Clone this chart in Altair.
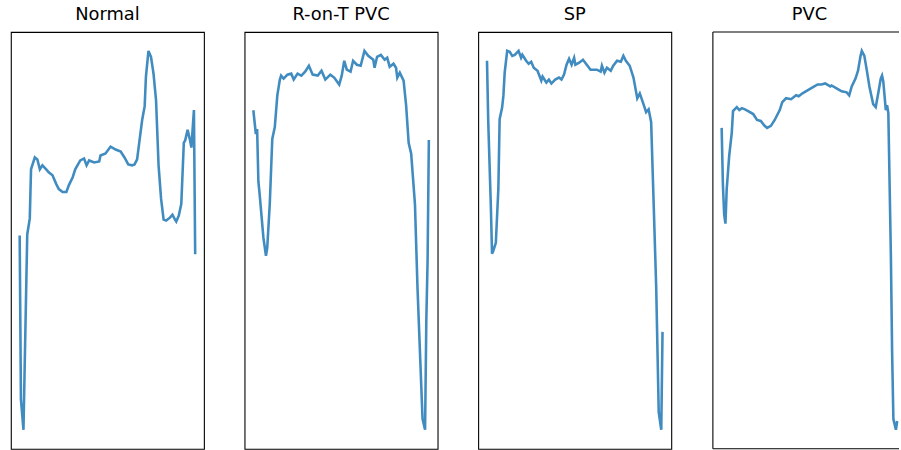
import altair as alt
import pandas as pd

titles = ["Normal", "R-on-T PVC", "SP", "PVC"]

t_normal = [0, 1, 3, 6, 8, 9, 12, 14, 16, 18, 21, 23, 26, 29, 31, 34, 37, 39, 42, 44, 48, 51, 53, 55, 59, 63, 64, 68, 72, 76, 80, 83, 86, 89, 91, 93, 95, 97, 99, 100, 102, 104, 106, 108, 109, 110, 112, 114, 116, 119, 121, 123, 124, 126, 128, 130, 131, 133, 135, 136, 138, 139]
v_normal = [0.06, -1.60, -1.91, 0.07, 0.23, 0.73, 0.85, 0.83, 0.73, 0.77, 0.73, 0.70, 0.67, 0.58, 0.53, 0.50, 0.50, 0.57, 0.65, 0.73, 0.82, 0.84, 0.77, 0.82, 0.80, 0.81, 0.87, 0.89, 0.96, 0.93, 0.91, 0.85, 0.78, 0.77, 0.78, 0.83, 1.03, 1.23, 1.37, 1.67, 1.93, 1.87, 1.70, 1.43, 1.10, 0.77, 0.43, 0.22, 0.21, 0.24, 0.27, 0.22, 0.20, 0.26, 0.38, 1.00, 1.02, 1.13, 1.02, 0.95, 1.33, -0.13]

t_ront = [0, 2, 3, 4, 5, 8, 10, 11, 13, 15, 17, 19, 21, 22, 24, 27, 30, 32, 35, 38, 41, 44, 47, 51, 54, 57, 61, 64, 68, 70, 72, 74, 77, 79, 82, 85, 88, 91, 95, 96, 98, 101, 104, 106, 108, 111, 113, 114, 116, 119, 121, 123, 125, 128, 130, 133, 134, 136, 137, 138, 139]
v_ront = [1.32, 1.08, 1.13, 0.60, 0.47, 0.03, -0.15, -0.07, 0.37, 1.03, 1.15, 1.47, 1.63, 1.67, 1.64, 1.68, 1.69, 1.63, 1.69, 1.67, 1.71, 1.77, 1.68, 1.67, 1.72, 1.63, 1.68, 1.65, 1.58, 1.67, 1.82, 1.73, 1.71, 1.82, 1.78, 1.77, 1.92, 1.87, 1.83, 1.75, 1.86, 1.88, 1.83, 1.85, 1.76, 1.79, 1.75, 1.65, 1.70, 1.62, 1.37, 0.99, 0.88, 0.37, -0.47, -1.47, -1.80, -1.91, -0.80, -0.20, 1.02]

t_sp = [0, 1, 3, 4, 5, 7, 9, 10, 12, 13, 14, 16, 18, 20, 22, 25, 27, 28, 31, 33, 35, 37, 40, 43, 44, 47, 49, 51, 54, 57, 59, 61, 63, 65, 67, 69, 70, 73, 76, 79, 82, 85, 87, 90, 91, 93, 95, 98, 100, 103, 106, 108, 110, 113, 116, 119, 121, 124, 126, 128, 130, 132, 134, 136, 138, 139]
v_sp = [1.82, 1.20, 0.37, -0.13, -0.10, -0.02, 0.53, 1.23, 1.35, 1.47, 1.70, 1.92, 1.91, 1.87, 1.88, 1.92, 1.85, 1.88, 1.82, 1.79, 1.81, 1.75, 1.72, 1.62, 1.66, 1.60, 1.63, 1.59, 1.63, 1.65, 1.63, 1.68, 1.78, 1.84, 1.78, 1.85, 1.78, 1.80, 1.83, 1.78, 1.73, 1.73, 1.73, 1.71, 1.77, 1.70, 1.75, 1.72, 1.77, 1.82, 1.81, 1.87, 1.82, 1.77, 1.65, 1.44, 1.49, 1.38, 1.30, 1.33, 1.20, 0.37, -0.47, -1.73, -1.91, -0.92]

t_pvc = [0, 1, 2, 3, 4, 6, 8, 9, 12, 14, 16, 18, 21, 25, 28, 31, 34, 36, 39, 42, 46, 48, 51, 55, 59, 61, 64, 68, 72, 76, 79, 82, 86, 87, 91, 95, 99, 101, 103, 106, 108, 110, 111, 113, 115, 117, 120, 122, 124, 126, 127, 128, 130, 131, 132, 134, 135, 136, 138, 139]
v_pvc = [1.15, 0.57, 0.27, 0.18, 0.53, 0.87, 1.10, 1.32, 1.36, 1.33, 1.35, 1.34, 1.32, 1.29, 1.23, 1.22, 1.17, 1.15, 1.17, 1.23, 1.33, 1.41, 1.45, 1.44, 1.48, 1.47, 1.50, 1.53, 1.56, 1.59, 1.59, 1.60, 1.57, 1.58, 1.55, 1.52, 1.51, 1.48, 1.57, 1.65, 1.73, 1.88, 1.93, 1.88, 1.73, 1.57, 1.39, 1.36, 1.50, 1.65, 1.68, 1.62, 1.33, 1.38, 1.30, -0.13, -1.13, -1.80, -1.91, -1.82]

series = [(t_normal, v_normal), (t_ront, v_ront), (t_sp, v_sp), (t_pvc, v_pvc)]

N = 140
xpad = (N - 1) * 0.05
x_domain = [-xpad, (N - 1) + xpad]

FULL_W = 195
LAST_W = 188  # last panel is cut off by the page edge
H = 421
LINE = dict(color="#1f77b4", opacity=0.85, strokeWidth=2.6)

one_row = pd.DataFrame({"k": [0]})

panels = []
for k, (title, (t, v)) in enumerate(zip(titles, series)):
    last = k == len(titles) - 1
    w = LAST_W if last else FULL_W
    dom = x_domain
    if last:
        dom = [x_domain[0], x_domain[0] + (x_domain[1] - x_domain[0]) * LAST_W / FULL_W]
    df = pd.DataFrame({"t": t, "v": v})
    lo, hi = min(v), max(v)
    pad = (hi - lo) * 0.05
    line = (
        alt.Chart(df)
        .mark_line(clip=True, **LINE)
        .encode(
            x=alt.X("t:Q", axis=None, scale=alt.Scale(domain=dom, nice=False, zero=False)),
            y=alt.Y("v:Q", axis=None, scale=alt.Scale(domain=[lo - pad, hi + pad], nice=False, zero=False)),
        )
    )
    tp = alt.TitleParams(title, fontSize=18, font="DejaVu Sans", fontWeight="normal",
                         color="black", offset=8, dx=(FULL_W - LAST_W) / 2 if last else 0)
    if last:
        frame = alt.Chart(one_row).mark_rule(color="black", strokeWidth=1.1)
        left = frame.encode(x=alt.value(0), y=alt.value(0), y2=alt.value(H))
        top = frame.encode(x=alt.value(0), x2=alt.value(w), y=alt.value(0))
        bottom = frame.encode(x=alt.value(0), x2=alt.value(w), y=alt.value(H))
        ch = alt.layer(line, left, top, bottom).properties(
            width=w, height=H, title=tp, view=alt.ViewBackground(stroke="transparent")
        )
    else:
        ch = line.properties(width=w, height=H, title=tp,
                             view=alt.ViewBackground(stroke="black", strokeWidth=1.1))
    panels.append(ch)

chart = (
    alt.hconcat(*panels, spacing=39)
    .properties(padding={"left": 10, "top": 2, "right": 0, "bottom": 0}, background="white")
)

chart.save("out.html", embed_options={"renderer": "svg", "actions": False})
